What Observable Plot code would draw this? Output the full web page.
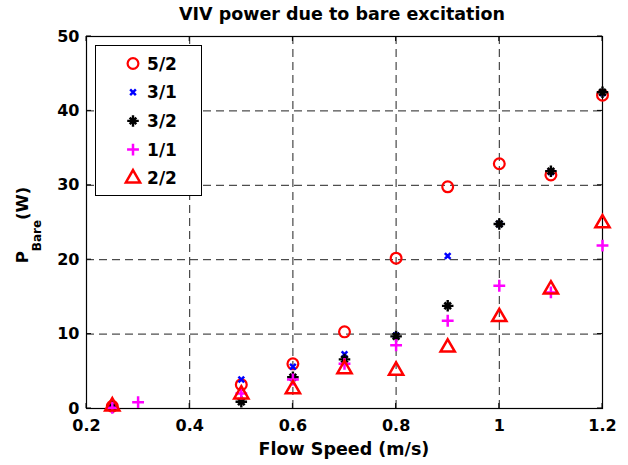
<!DOCTYPE html>
<html><head><meta charset="utf-8">
<script src="https://cdn.jsdelivr.net/npm/d3@7"></script>
<script src="https://cdn.jsdelivr.net/npm/@observablehq/plot@0.6"></script>
<style>
body{margin:0;background:#fff}
#chart svg{font-family:"DejaVu Sans",sans-serif;font-weight:bold}
</style>
</head><body><div id="chart"></div>
<script>
// ---- data ----
const title = "VIV power due to bare excitation";
const xLabel = "Flow Speed (m/s)";
const yLabelMain = "P", yLabelSub = "Bare", yLabelEnd = "(W)";
const xTicks = [0.2, 0.4, 0.6, 0.8, 1.0, 1.2];
const yTicks = [0, 10, 20, 30, 40, 50];

const speeds = [0.25, 0.5, 0.6, 0.7, 0.8, 0.9, 1.0, 1.1, 1.2];
const p52 = [0.3, 3.2, 6.0, 10.3, 20.2, 29.8, 32.9, 31.4, 42.1];
const p31 = [0.2, 3.9, 5.6, 7.3, 9.8, 20.5, 24.8, 31.8, 42.4];
const p32 = [0.2, 0.9, 4.2, 6.6, 9.7, 13.8, 24.8, 31.9, 42.5];
const speeds11 = [0.25, 0.3, 0.5, 0.6, 0.7, 0.8, 0.9, 1.0, 1.1, 1.2];
const p11 = [0.1, 0.85, 2.0, 3.9, 6.0, 8.5, 11.8, 16.5, 15.6, 21.9];
const p22 = [0.3, 1.9, 2.6, 5.3, 5.1, 8.2, 12.3, 16.0, 24.9];

const seriesNames = ["5/2", "3/1", "3/2", "1/1", "2/2"];

// styles per series
const styles = {
  "5/2": [{symbol: d3.symbolCircle, r: 5.4, stroke: "#ff0000", strokeWidth: 2.2}],
  "3/1": [{symbol: d3.symbolTimes, r: 2.7, stroke: "#0000ff", strokeWidth: 2.5}],
  "3/2": [{symbol: d3.symbolPlus, r: 3.8, stroke: "#000000", strokeWidth: 2.4},
          {symbol: d3.symbolTimes, r: 3.1, stroke: "#000000", strokeWidth: 2.6}],
  "1/1": [{symbol: d3.symbolPlus, r: 3.9, stroke: "#ff00ff", strokeWidth: 2.5}],
  "2/2": [{symbol: d3.symbolTriangle2, r: 6.8, stroke: "#ff0000", strokeWidth: 2.5}]
};
const seriesData = {
  "5/2": speeds.map((x, i) => ({x, y: p52[i]})),
  "3/1": speeds.map((x, i) => ({x, y: p31[i]})),
  "3/2": speeds.map((x, i) => ({x, y: p32[i]})),
  "1/1": speeds11.map((x, i) => ({x, y: p11[i]})),
  "2/2": speeds.map((x, i) => ({x, y: p22[i]}))
};

const dotMarks = [];
for (const name of seriesNames) {
  for (const st of styles[name]) {
    dotMarks.push(Plot.dot(seriesData[name], {x: "x", y: "y", symbol: st.symbol, r: st.r,
      stroke: st.stroke, strokeWidth: st.strokeWidth, fill: "none"}));
  }
}

const W = 628, H = 465;
const fmtX = d => String(+d.toFixed(1));
const plot = Plot.plot({
  width: W, height: H,
  marginLeft: 86, marginRight: 26, marginTop: 36, marginBottom: 57,
  style: {fontFamily: "DejaVu Sans", fontWeight: "bold", fontSize: "16px", background: "#fff", color: "#000", overflow: "visible"},
  x: {domain: [0.2, 1.2], label: null},
  y: {domain: [0, 50], label: null},
  marks: [
    Plot.ruleX(xTicks.slice(1, -1), {stroke: "#222", strokeWidth: 1, strokeDasharray: "8,5"}),
    Plot.ruleY(yTicks.slice(1, -1), {stroke: "#222", strokeWidth: 1, strokeDasharray: "8,5"}),
    Plot.frame({stroke: "#000", strokeWidth: 1.2}),
    Plot.axisX({ticks: xTicks, tickFormat: fmtX, tickSize: 0, tickPadding: 11, label: null, fontSize: 16}),
    Plot.axisY({ticks: yTicks, tickSize: 0, tickPadding: 7, label: null, fontSize: 16}),
    ...dotMarks
  ]
});
document.getElementById("chart").appendChild(plot);

// ---- inward ticks, labels, legend ----
const svg = d3.select(plot);
const sx = plot.scale("x"), sy = plot.scale("y");
const x0 = sx.apply(0.2), x1 = sx.apply(1.2), y0 = sy.apply(0), y1 = sy.apply(50);
const tg = svg.append("g").attr("stroke", "#000").attr("stroke-width", 1);
for (const t of xTicks) {
  const px = sx.apply(t);
  tg.append("line").attr("x1", px).attr("x2", px).attr("y1", y0).attr("y2", y0 - 5);
  tg.append("line").attr("x1", px).attr("x2", px).attr("y1", y1).attr("y2", y1 + 5);
}
for (const t of yTicks) {
  const py = sy.apply(t);
  tg.append("line").attr("x1", x0).attr("x2", x0 + 5).attr("y1", py).attr("y2", py);
  tg.append("line").attr("x1", x1).attr("x2", x1 - 5).attr("y1", py).attr("y2", py);
}

const cx = (x0 + x1) / 2, cy = (y0 + y1) / 2;
svg.append("text").attr("x", cx - 2).attr("y", 20).attr("text-anchor", "middle")
  .attr("font-size", 17.5).attr("font-weight", "bold").attr("fill", "#000").text(title);
svg.append("text").attr("x", cx).attr("y", 455).attr("text-anchor", "middle")
  .attr("font-size", 17.5).attr("font-weight", "bold").attr("fill", "#000").text(xLabel);
const yl = svg.append("text").attr("transform", `translate(28,${cy + 3}) rotate(-90)`)
  .attr("text-anchor", "middle").attr("font-weight", "bold").attr("fill", "#000").attr("font-size", 16.5);
yl.append("tspan").text(yLabelMain);
yl.append("tspan").attr("font-size", 12).attr("dy", 13).text(yLabelSub);
yl.append("tspan").attr("dy", -13).text(yLabelEnd);

// legend
const lg = svg.append("g");
lg.append("rect").attr("x", 95.5).attr("y", 45.5).attr("width", 106).attr("height", 150)
  .attr("fill", "#fff").attr("stroke", "#000").attr("stroke-width", 1);
seriesNames.forEach((name, i) => {
  const ry = 63.5 + i * 28.7;
  for (const st of styles[name]) {
    lg.append("path").attr("transform", `translate(133,${ry})`)
      .attr("d", d3.symbol(st.symbol, Math.PI * st.r * st.r)())
      .attr("fill", "none").attr("stroke", st.stroke).attr("stroke-width", st.strokeWidth);
  }
  lg.append("text").attr("x", 162).attr("y", ry).attr("dy", "0.36em")
    .attr("font-size", 17).attr("font-weight", "bold").attr("fill", "#000").text(name);
});
</script>
</body></html>
